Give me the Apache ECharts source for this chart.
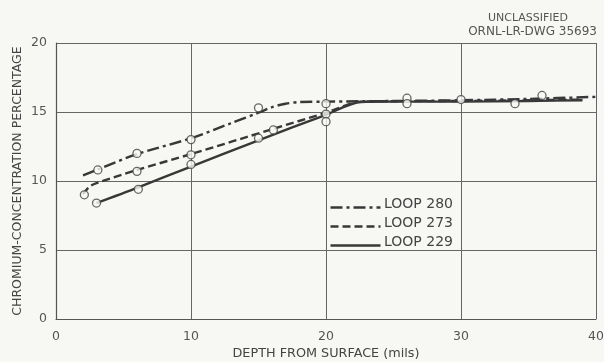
<!DOCTYPE html>
<html><head><meta charset="utf-8">
<script src="https://cdn.jsdelivr.net/npm/echarts@6/dist/echarts.min.js"></script>
<style>html,body{margin:0;padding:0;background:#f7f7f4}#c{width:604px;height:362px}</style>
</head><body><div id="c"></div>
<script>
// Fitted curves (depth mils, Cr %)
const curve280 = [[2,10.4],[3,10.8],[6,11.95],[10,13.1],[13,14.2],[15,14.95],[16,15.35],[17,15.6],[18,15.72],[20,15.75],[25,15.8],[30,15.85],[35,15.95],[40,16.1]];
const curve273 = [[2,9.05],[2.5,9.6],[3,9.85],[6,10.8],[10,11.95],[16,13.75],[20,14.95],[22.6,15.75],[25,15.78],[30,15.8],[35,15.85],[39,15.9]];
const curve229 = [[3,8.4],[6,9.5],[10,11.05],[15,12.95],[20,14.8],[22.6,15.72],[25,15.75],[30,15.75],[35,15.8],[39,15.85]];
// Measured points
const pts280 = [[3.1,10.8],[6,12.0],[10,13.0],[15,15.3],[20,15.6],[26,16.0],[36,16.2]];
const pts273 = [[2.1,9.0],[6,10.7],[10,11.9],[16.1,13.7],[20,14.85],[26,15.6],[34,15.6]];
const pts229 = [[3,8.4],[6.1,9.4],[10,11.2],[15,13.1],[20,14.3],[30,15.9]];
const xTicks = [0,10,20,30,40];
const yTicks = [0,5,10,15,20];
const legendNames = ['LOOP 280','LOOP 273','LOOP 229'];

const ink = '#383838';
const font = 'DejaVu Sans';
const chart = echarts.init(document.getElementById('c'));
const lineS = (name, data, type) => ({
  name, type:'line', data, showSymbol:false, smooth:0.3, z:3,
  lineStyle:{color:ink, width:2.4, type}
});
const ptS = (data) => ({
  type:'scatter', data, symbol:'circle', symbolSize:8, z:5,
  itemStyle:{color:'#f7f7f4', borderColor:'#444', borderWidth:1.3}
});
const legY = [205,224,243];
const legTypes = [[12,4,3,4],[8,4],'solid'];
const graphics = [];
legendNames.forEach((n,i)=>{
  graphics.push({type:'line', left:328, top:legY[i], shape:{x1:0,y1:0,x2:50,y2:0},
    style:{stroke:ink, lineWidth:2.4, lineDash: legTypes[i]==='solid'?null:legTypes[i]}});
  graphics.push({type:'text', left:384, top:legY[i]-8,
    style:{text:n, fill:'#444', font:'14px "'+font+'"'}});
});
graphics.push({type:'text', right:36, top:13, style:{text:'UNCLASSIFIED', fill:'#555', font:'11px "'+font+'"'}});
graphics.push({type:'text', right:7, top:26, style:{text:'ORNL-LR-DWG 35693', fill:'#555', font:'12px "'+font+'"'}});

chart.setOption({
  backgroundColor:'#f7f7f4',
  animation:false,
  grid:{left:56, right:8, top:43, bottom:43, containLabel:false, outerBoundsMode:'none'},
  xAxis:{type:'value', min:0, max:40, interval:10,
    name:'DEPTH FROM SURFACE (mils)', nameLocation:'middle', nameGap:28, nameMoveOverlap:false,
    nameTextStyle:{color:'#444', fontFamily:font, fontSize:12.8},
    axisLine:{show:true, lineStyle:{color:'#555', width:1.2}},
    axisTick:{show:false},
    axisLabel:{color:'#555', fontFamily:font, fontSize:12.5, margin:11,
      formatter:v=> xTicks.includes(v)? String(v):''},
    splitLine:{show:true, lineStyle:{color:'#666', width:1}}
  },
  yAxis:{type:'value', min:0, max:20, interval:5,
    name:'CHROMIUM-CONCENTRATION PERCENTAGE', nameLocation:'middle', nameGap:32, nameMoveOverlap:false,
    nameTextStyle:{color:'#444', fontFamily:font, fontSize:12.5},
    axisLine:{show:true, lineStyle:{color:'#555', width:1.2}},
    axisTick:{show:false},
    axisLabel:{color:'#555', fontFamily:font, fontSize:12.5, margin:9,
      formatter:v=> yTicks.includes(v)? String(v):''},
    splitLine:{show:true, lineStyle:{color:'#666', width:1}}
  },
  series:[
    lineS('LOOP 280', curve280, [12,4,3,4]),
    lineS('LOOP 273', curve273, [8,4]),
    lineS('LOOP 229', curve229, 'solid'),
    ptS(pts280), ptS(pts273), ptS(pts229)
  ],
  graphic:graphics
});
</script></body></html>
